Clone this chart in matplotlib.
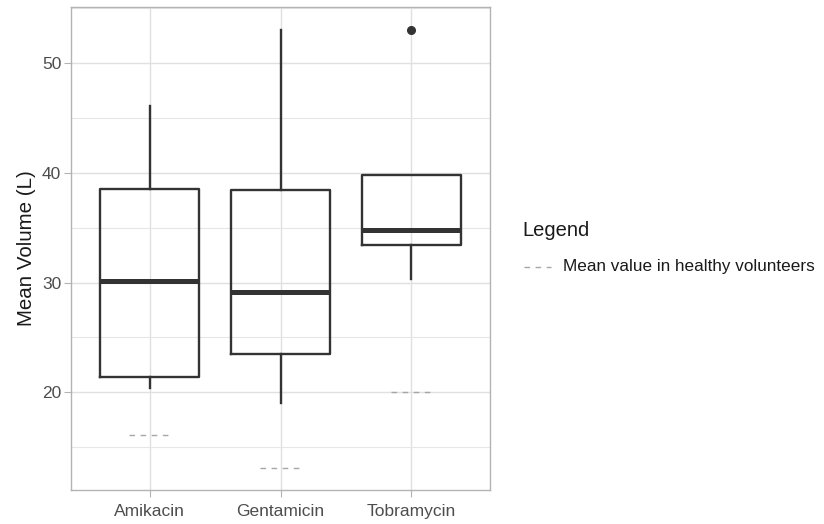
import matplotlib.pyplot as plt
from matplotlib.lines import Line2D
from matplotlib.ticker import MultipleLocator

plt.rcParams['font.family'] = ['Liberation Sans', 'DejaVu Sans']

# Data
drugs = ["Amikacin", "Gentamicin", "Tobramycin"]
whisker_low = [20.4, 19.0, 30.3]
q1 = [21.4, 23.5, 33.4]
median = [30.1, 29.1, 34.8]
q3 = [38.5, 38.45, 39.8]
whisker_high = [46.1, 53.0, 39.8]
outliers = [[], [], [53.0]]
healthy_mean = [16.1, 13.1, 20.0]

stats = []
for i, name in enumerate(drugs):
    stats.append({"label": name, "whislo": whisker_low[i], "q1": q1[i],
                  "med": median[i], "q3": q3[i], "whishi": whisker_high[i],
                  "fliers": outliers[i]})

fig = plt.figure(figsize=(8.24, 5.24), dpi=100)
ax = fig.add_axes([71 / 824, 1 - 490 / 524, 419 / 824, 483 / 524])

dark = "#333333"
dash_grey = "#a6a6a6"
ax.bxp(stats, positions=[1, 2, 3], widths=0.75, showcaps=False,
       boxprops=dict(color=dark, linewidth=1.7),
       whiskerprops=dict(color=dark, linewidth=1.7),
       medianprops=dict(color=dark, linewidth=3.6, solid_capstyle="butt"),
       flierprops=dict(marker="o", markerfacecolor=dark, markeredgecolor=dark,
                       markersize=5.5))

# healthy volunteer means as short dashed segments
for i, v in enumerate(healthy_mean):
    ax.hlines(v, i + 1 - 0.155, i + 1 + 0.155, colors=dash_grey,
              linestyles=(0, (4, 4)), linewidth=1.0)

ax.set_xlim(0.4, 3.6)
ax.set_ylim(11.1, 55.1)
ax.yaxis.set_major_locator(MultipleLocator(10))
ax.yaxis.set_minor_locator(MultipleLocator(5))
ax.set_xticks([1, 2, 3])
ax.set_xticklabels(drugs)

ax.grid(True, which="major", color="#e0e0e0", linewidth=1.0)
ax.grid(True, which="minor", axis="y", color="#e6e6e6", linewidth=0.8)
ax.set_axisbelow(True)
for s in ax.spines.values():
    s.set_color("#b3b3b3")
    s.set_linewidth(1.0)
ax.tick_params(axis="both", which="major", colors="#b3b3b3", length=5,
               labelcolor="#4d4d4d", labelsize=12.5, pad=2)
ax.tick_params(axis="x", which="major", pad=5)
ax.tick_params(axis="y", which="minor", length=0)
ax.set_ylabel("Mean Volume (L)", fontsize=14.8, color="#1a1a1a", labelpad=4)

# legend drawn in figure pixel coordinates
W, H = 824, 524
fig.text(522 / W, 1 - 230 / H, "Legend", fontsize=14.5, color="#1a1a1a",
         ha="left", va="center")
fig.add_artist(Line2D([524 / W, 551 / W], [1 - 267 / H, 1 - 267 / H],
                      color=dash_grey, linestyle=(0, (4, 4)), linewidth=1.0))
fig.text(563 / W, 1 - 267 / H, "Mean value in healthy volunteers",
         fontsize=12.3, color="#1a1a1a", ha="left", va="center")

plt.savefig("out.png", dpi=100)
